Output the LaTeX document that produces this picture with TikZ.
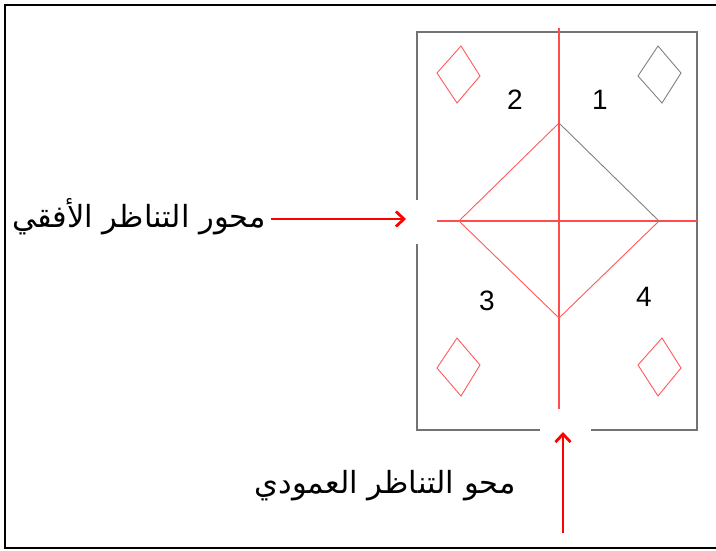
\documentclass[tikz,border=0pt]{standalone}
\usepackage{fontspec}
\setmainfont{Liberation Sans}
\newfontfamily\arabicfont[Script=Arabic]{DejaVu Sans}
\TeXXeTstate=1
\usetikzlibrary{arrows.meta}
\tikzset{
  redshape/.style={draw=red!65, line width=0.9pt},
  axisline/.style={draw=red!70, line width=1.4pt},
  grayline/.style={draw=black!50, line width=0.9pt},
  framebox/.style={draw=black!55, line width=1.1pt},
  outer/.style={draw=black, line width=2.2pt},
  digit/.style={font=\fontsize{28}{30}\selectfont, inner sep=0pt},
  arlabel/.style={font=\arabicfont\fontsize{30.5}{34}\selectfont, inner sep=0pt},
  bigarrow/.style={draw=red, line width=2.8pt, -{Straight Barb[length=8pt,width=15pt]}}
}
\begin{document}
\begin{tikzpicture}[x=1pt,y=-1pt]
\useasboundingbox (0,0) rectangle (716,550);
% outer frame (left, top, bottom)
\draw[outer] (716,5) -- (5,5) -- (5,548) -- (716,548);
% rectangle with gaps
\draw[framebox] (417,200) -- (417,32) -- (697,32) -- (697,430) -- (591,430);
\draw[framebox] (540,430) -- (417,430) -- (417,244);
% axes
\draw[axisline] (559,28) -- (559,409);
\draw[axisline] (437,221) -- (697,221);
% big diamond
\coordinate (T) at (559,123);
\coordinate (L) at (459,221);
\coordinate (R) at (659,221);
\coordinate (B) at (559,318);
\draw[redshape] (R) -- (B) -- (L) -- (T);
\draw[grayline] (T) -- (R);
% small diamonds
\draw[redshape] (461,46) -- (480,76) -- (457,103) -- (437,73) -- cycle;
\draw[grayline] (658,46) -- (681,73) -- (662,103) -- (638,76) -- cycle;
\draw[redshape] (457,338) -- (480,365) -- (461,396) -- (437,368) -- cycle;
\draw[redshape] (662,338) -- (681,368) -- (658,396) -- (638,365) -- cycle;
% digits
\node[digit] (n2) at (515,100) {2};
\node[digit] (n1) at (600,100) {1};
\node[digit] (n3) at (487,301) {3};
\node[digit] (n4) at (644,297) {4};
% labels and arrows
\node[arlabel, anchor=east] (hlabel) at (266,217) {\beginR محور التناظر الأفقي\endR};
\coordinate (hstart) at (271,219);
\coordinate (htip) at (406,219);
\draw[bigarrow] (hstart) -- (htip);
\node[arlabel, anchor=east] (vlabel) at (516,486) {\beginR محو التناظر العمودي\endR};
\coordinate (vstart) at (563,533);
\coordinate (vtip) at (563,432);
\draw[bigarrow] (vstart) -- (vtip);
\end{tikzpicture}
\end{document}
